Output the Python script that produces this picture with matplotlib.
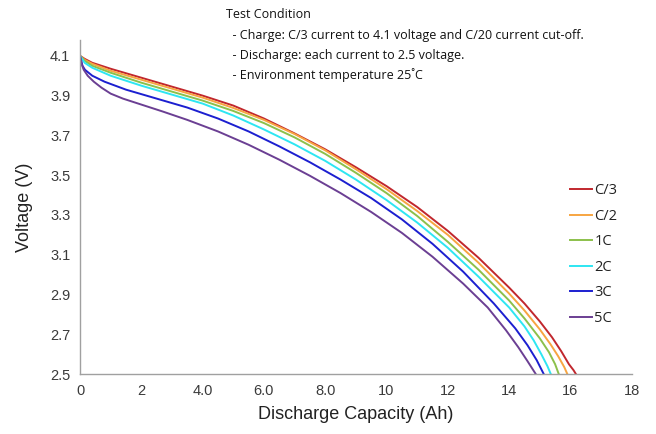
import numpy as np
import matplotlib.pyplot as plt

# discharge curves (capacity Ah, voltage V)
labels = ['C/3', 'C/2', '1C', '2C', '3C', '5C']
colors = ['#c1272d', '#f7a541', '#8cc04b', '#2ee6f2', '#1c1fd0', '#6b3f93']

cap_c3 = [0, 0.15, 0.4, 1, 2, 3, 4, 5, 6, 7, 8, 9, 10, 11, 12, 13, 14, 14.5,
          15, 15.4, 15.7, 15.95, 16.1, 16.18]
v_c3 = [4.10, 4.085, 4.065, 4.035, 3.99, 3.945, 3.90, 3.85, 3.785, 3.71, 3.63,
        3.54, 3.445, 3.34, 3.22, 3.085, 2.935, 2.855, 2.765, 2.685, 2.615, 2.55,
        2.52, 2.50]

cap_c2 = [0, 0.15, 0.4, 1, 2, 3, 4, 5, 6, 7, 8, 9, 10, 11, 12, 13, 14, 14.5,
          15, 15.35, 15.6, 15.8, 15.9]
v_c2 = [4.10, 4.08, 4.06, 4.025, 3.98, 3.935, 3.89, 3.838, 3.778, 3.707, 3.625,
        3.53, 3.43, 3.32, 3.20, 3.06, 2.905, 2.82, 2.725, 2.65, 2.59, 2.535, 2.50]

cap_1c = [0, 0.15, 0.4, 1, 2, 3, 4, 5, 6, 7, 8, 9, 10, 11, 12, 13, 14, 14.5,
          15, 15.3, 15.5, 15.62]
v_1c = [4.10, 4.075, 4.05, 4.015, 3.965, 3.92, 3.875, 3.823, 3.762, 3.69, 3.607,
        3.512, 3.41, 3.295, 3.165, 3.025, 2.87, 2.78, 2.68, 2.61, 2.55, 2.50]

cap_2c = [0, 0.15, 0.4, 1, 2, 3, 4, 5, 6, 7, 8, 9, 10, 11, 12, 13, 14, 14.5,
          14.8, 15.05, 15.25, 15.36]
v_2c = [4.10, 4.065, 4.04, 4.0, 3.95, 3.905, 3.86, 3.80, 3.73, 3.655, 3.572, 3.478,
        3.375, 3.262, 3.135, 2.99, 2.835, 2.74, 2.67, 2.60, 2.54, 2.50]

cap_3c = [0, 0.08, 0.16, 0.4, 0.8, 1.5, 2.5, 3.5, 4.5, 5.5, 6.5, 7.5, 8.5, 9.5,
          10.5, 11.5, 12.5, 13.5, 14.2, 14.6, 14.9, 15.13]
v_3c = [4.10, 4.05, 4.03, 4.0, 3.97, 3.93, 3.885, 3.84, 3.785, 3.72, 3.645, 3.565,
        3.478, 3.385, 3.278, 3.155, 3.015, 2.855, 2.73, 2.645, 2.57, 2.50]

cap_5c = [0, 0.05, 0.12, 0.25, 0.45, 0.7, 1.0, 1.4, 2, 2.7, 3.5, 4.5, 5.5, 6.5,
          7.5, 8.5, 9.5, 10.5, 11.5, 12.5, 13.3, 13.9, 14.3, 14.6, 14.87]
v_5c = [4.10, 4.06, 4.03, 4.00, 3.97, 3.94, 3.91, 3.885, 3.855, 3.82, 3.778, 3.72,
        3.653, 3.578, 3.497, 3.41, 3.315, 3.21, 3.09, 2.955, 2.835, 2.72, 2.635,
        2.565, 2.50]

curves = [(cap_c3, v_c3), (cap_c2, v_c2), (cap_1c, v_1c),
          (cap_2c, v_2c), (cap_3c, v_3c), (cap_5c, v_5c)]

xticks = [0, 2, 4, 6, 8, 10, 12, 14, 16, 18]
xtick_labels = ['0', '2', '4.0', '6.0', '8.0', '10', '12', '14', '16', '18']
yticks = [2.5, 2.7, 2.9, 3.1, 3.3, 3.5, 3.7, 3.9, 4.1]

notes = ['Test Condition',
         '  - Charge: C/3 current to 4.1 voltage and C/20 current cut-off.',
         '  - Discharge: each current to 2.5 voltage.',
         '  - Environment temperature 25\u02daC']

fig = plt.figure(figsize=(6.56, 4.34), dpi=100)
ax = fig.add_axes([0.122, 0.138, 0.841, 0.770])

for (x, y), lab, c in zip(curves, labels, colors):
    ax.plot(x, y, color=c, lw=1.4, label=lab, solid_joinstyle='round')

ax.set_xlim(0, 18)
ax.set_ylim(2.5, 4.18)
ax.set_xticks(xticks)
ax.set_xticklabels(xtick_labels)
ax.set_yticks(yticks)
ax.set_yticklabels([f'{t:.1f}' for t in yticks])
ax.tick_params(length=0, labelsize=10.5, labelcolor='#3a3a3a', pad=7)
for lab in ax.get_xticklabels() + ax.get_yticklabels():
    lab.set_family('Liberation Sans')

for s in ['top', 'right']:
    ax.spines[s].set_visible(False)
for s in ['left', 'bottom']:
    ax.spines[s].set_color('#a0a0a0')
    ax.spines[s].set_linewidth(1.0)

ax.set_xlabel('Discharge Capacity (Ah)', fontsize=13, family='Liberation Sans',
              color='#222222', labelpad=6)
ax.set_ylabel('Voltage (V)', fontsize=13, family='Liberation Sans',
              color='#222222', labelpad=12)

leg = ax.legend(loc='upper left', bbox_to_anchor=(557 / 656, 1 - 170 / 434),
                bbox_transform=fig.transFigure, frameon=False, handlelength=1.5,
                handletextpad=0.15, labelspacing=0.72,
                prop={'family': 'Open Sans', 'size': 10.5})
for t in leg.get_texts():
    t.set_color('#222222')

ys = [15, 35, 55, 75]
for t, yy in zip(notes, ys):
    fig.text(226 / 656, 1 - yy / 434, t, fontsize=9, family='Open Sans',
             color='#111111', va='center', ha='left')

fig.savefig('out.png', dpi=100)
